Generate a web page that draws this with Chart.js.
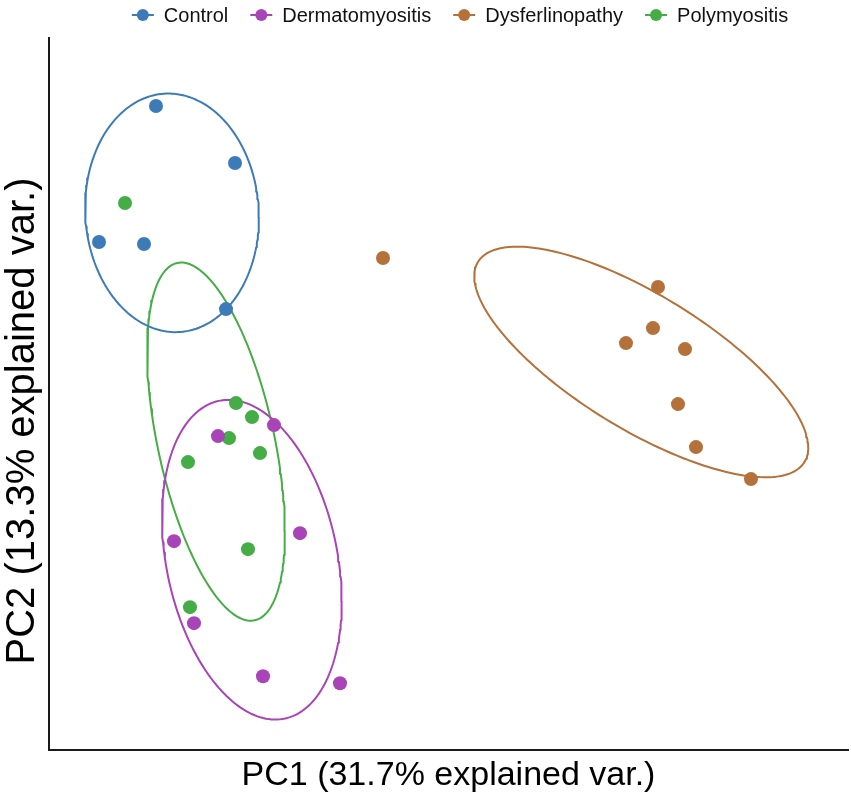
<!DOCTYPE html>
<html>
<head>
<meta charset="utf-8">
<title>PCA biplot</title>
<script src="https://cdn.jsdelivr.net/npm/chart.js@4.4.0/dist/chart.umd.min.js"></script>
<style>
  html, body { margin: 0; padding: 0; background: #fff; }
  #wrap { width: 851px; height: 804px; }
</style>
</head>
<body>
<div id="wrap"><canvas id="pcaChart"></canvas></div>
<script>
var groups = ['Control', 'Dermatomyositis', 'Dysferlinopathy', 'Polymyositis'];
var groupColors = ['#3d7ab8', '#a844b8', '#b4713a', '#45ad45'];

// PC scores
var controlPC1 = [-1.43, -0.64, -2.00, -1.55, -0.73];
var controlPC2 = [3.14, 2.57, 1.78, 1.76, 1.11];

var dermatoPC1 = [-0.25, -0.81, 0.01, -1.25, -1.05, -0.36, 0.41];
var dermatoPC2 = [-0.05, -0.16, -1.13, -1.21, -2.03, -2.56, -2.63];

var dysferPC1 = [0.84, 3.59, 3.54, 3.27, 3.86, 3.79, 3.97, 4.52];
var dysferPC2 = [1.62, 1.33, 0.92, 0.77, 0.71, 0.16, -0.27, -0.59];

var polyPC1 = [-1.74, -0.63, -0.47, -0.70, -0.39, -1.11, -0.51, -1.09];
var polyPC2 = [2.17, 0.17, 0.03, -0.18, -0.33, -0.42, -1.29, -1.87];

var axisTitleX = 'PC1 (31.7% explained var.)';
var axisTitleY = 'PC2 (13.3% explained var.)';

var ellipseProb = 0.68;
var fontFamily = '"Liberation Sans", Arial, sans-serif';

function toPoints(xs, ys) {
  var pts = [];
  for (var i = 0; i < xs.length; i++) {
    pts.push({x: xs[i], y: ys[i]});
  }
  return pts;
}

// normal probability ellipse of a group (same as ggbiplot)
function ellipsePoints(xs, ys, prob) {
  var n = xs.length, mx = 0, my = 0;
  for (var i = 0; i < n; i++) { mx += xs[i]; my += ys[i]; }
  mx /= n; my /= n;
  var sxx = 0, syy = 0, sxy = 0;
  for (var j = 0; j < n; j++) {
    sxx += (xs[j] - mx) * (xs[j] - mx);
    syy += (ys[j] - my) * (ys[j] - my);
    sxy += (xs[j] - mx) * (ys[j] - my);
  }
  sxx /= (n - 1); syy /= (n - 1); sxy /= (n - 1);
  var a = Math.sqrt(sxx);
  var b = sxy / a;
  var c = Math.sqrt(syy - b * b);
  var ed = Math.sqrt(-2 * Math.log(1 - prob));
  var pts = [];
  for (var k = 0; k <= 200; k++) {
    var t = 2 * Math.PI * k / 200;
    var ct = Math.cos(t), st = Math.sin(t);
    pts.push({x: mx + ed * a * ct, y: my + ed * (b * ct + c * st)});
  }
  return pts;
}

var groupPC1 = [controlPC1, dermatoPC1, dysferPC1, polyPC1];
var groupPC2 = [controlPC2, dermatoPC2, dysferPC2, polyPC2];

var datasets = [];
for (var g = 0; g < groups.length; g++) {
  datasets.push({
    label: groups[g] + ' ellipse',
    data: ellipsePoints(groupPC1[g], groupPC2[g], ellipseProb),
    showLine: true,
    borderColor: groupColors[g],
    borderWidth: 2,
    borderCapStyle: 'round',
    borderJoinStyle: 'round',
    pointRadius: 0,
    pointHoverRadius: 0,
    fill: false,
    tension: 0,
    order: 1
  });
}
for (var h = 0; h < groups.length; h++) {
  datasets.push({
    label: groups[h],
    data: toPoints(groupPC1[h], groupPC2[h]),
    backgroundColor: groupColors[h],
    borderWidth: 0,
    pointRadius: 7,
    order: 0
  });
}

// legend drawn as in ggplot: short line with a dot, centred over the panel
var topLegend = {
  id: 'topLegend',
  afterDraw: function(chart) {
    var ctx = chart.ctx;
    var symW = 22, gapText = 10, gapItem = 22;
    ctx.save();
    ctx.font = '20px ' + fontFamily;
    ctx.textBaseline = 'middle';
    var widths = groups.map(function(g) { return ctx.measureText(g).width; });
    var total = 0;
    widths.forEach(function(w) { total += symW + gapText + w; });
    total += gapItem * (groups.length - 1);
    var x = 460 - total / 2;
    var y = 15;
    for (var i = 0; i < groups.length; i++) {
      ctx.strokeStyle = groupColors[i];
      ctx.lineWidth = 2;
      ctx.beginPath();
      ctx.moveTo(x, y);
      ctx.lineTo(x + symW, y);
      ctx.stroke();
      ctx.fillStyle = groupColors[i];
      ctx.beginPath();
      ctx.arc(x + symW / 2, y, 6, 0, 2 * Math.PI);
      ctx.fill();
      ctx.fillStyle = '#111';
      ctx.fillText(groups[i], x + symW + gapText, y + 1);
      x += symW + gapText + widths[i] + gapItem;
    }
    ctx.restore();
  }
};

// y title sits a little below the panel centre in the original
var yTitle = {
  id: 'yTitle',
  afterDraw: function(chart) {
    var ctx = chart.ctx;
    ctx.save();
    ctx.translate(23, 421);
    ctx.rotate(-Math.PI / 2);
    ctx.font = '40px ' + fontFamily;
    ctx.fillStyle = '#000';
    ctx.textAlign = 'center';
    ctx.textBaseline = 'middle';
    ctx.fillText(axisTitleY, 0, 0);
    ctx.restore();
  }
};

var ctx = document.getElementById('pcaChart').getContext('2d');
var pcaChart = new Chart(ctx, {
  type: 'scatter',
  data: {datasets: datasets},
  options: {
    responsive: true,
    maintainAspectRatio: false,
    animation: false,
    clip: false,
    layout: {autoPadding: false, padding: {top: 38, right: 3, bottom: 4, left: 49}},
    plugins: {
      legend: {display: false},
      tooltip: {enabled: false}
    },
    scales: {
      x: {
        min: -2.5,
        max: 5.49,
        grid: {display: false, drawTicks: false},
        ticks: {display: false},
        border: {display: true, color: '#1a1a1a', width: 2},
        title: {
          display: true,
          text: axisTitleX,
          color: '#000',
          font: {family: fontFamily, size: 34},
          padding: {top: 5, bottom: 4}
        }
      },
      y: {
        min: -3.3,
        max: 3.82,
        grid: {display: false, drawTicks: false},
        ticks: {display: false},
        border: {display: true, color: '#1a1a1a', width: 2},
        title: {display: false}
      }
    }
  },
  plugins: [topLegend, yTitle]
});
</script>
</body>
</html>
